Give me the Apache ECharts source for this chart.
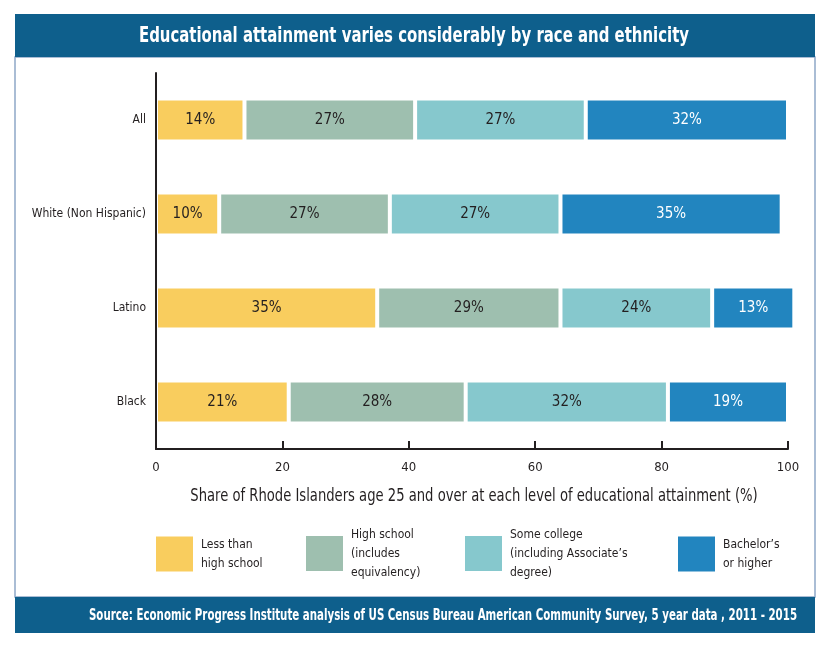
<!DOCTYPE html>
<html>
<head>
<meta charset="utf-8">
<style>
	html, body { margin: 0; padding: 0; background: #fff; }
	#main { width: 830px; height: 649px; }
</style>
<script src="https://cdn.jsdelivr.net/npm/echarts@6/dist/echarts.min.js"></script>
</head>
<body>
<div id="main"></div>
<script>
var groups = ["All", "White (Non Hispanic)", "Latino", "Black"];
var levels = ["Less than\nhigh school", "High school\n(includes\nequivalency)", "Some college\n(including Associate\u2019s\ndegree)", "Bachelor\u2019s\nor higher"];
var lessThanHS = [14, 10, 35, 21];
var highSchool = [27, 27, 29, 28];
var someCollege = [27, 27, 24, 32];
var bachelors = [32, 35, 13, 19];
var xTicks = [0, 20, 40, 60, 80, 100];

var colors = ["#F9CD5E", "#9EBFAF", "#86C8CD", "#2285BF"];
var labelColors = ["#231f20", "#231f20", "#231f20", "#ffffff"];
var font = "'DejaVu Sans Condensed', 'Liberation Sans Narrow', sans-serif";
var barBlue = "#0e5f8c";

var myChart = echarts.init(document.getElementById("main"));

var values = [lessThanHS, highSchool, someCollege, bachelors];
var series = [];
for (var i = 0; i < values.length; i++) {
	series.push({
		name: levels[i],
		type: 'bar',
		stack: 'total',
		data: values[i],
		barWidth: 43,
		clip: false,
		itemStyle: {
			color: colors[i],
			borderColor: '#fff',
			borderWidth: 2
		},
		label: {
			show: true,
			position: 'inside',
			formatter: '{c}%',
			fontFamily: font,
			fontSize: 15,
			color: labelColors[i]
		}
	});
}

// one legend per item so each sits where the original puts it
var legendLeft = [154, 304, 463, 676];
var legendTop = [534.5, 525, 525, 534.5];
var legends = [];
for (var j = 0; j < levels.length; j++) {
	legends.push({
		data: [levels[j]],
		left: legendLeft[j],
		top: legendTop[j],
		padding: 0,
		icon: 'rect',
		itemWidth: 39,
		itemHeight: 37,
		itemGap: 0,
		selectedMode: false,
		textStyle: {
			fontFamily: font,
			fontSize: 12,
			lineHeight: 19,
			color: '#231f20',
			padding: [0, 0, 0, 2]
		}
	});
}

var option = {
	animation: false,
	backgroundColor: '#fff',
	graphic: [{
		type: 'rect',
		z: -1,
		shape: { x: 15, y: 57, width: 800, height: 540 },
		style: { fill: 'none', stroke: '#8ea8c8', lineWidth: 1.5 }
	}, {
		type: 'rect',
		z: -1,
		shape: { x: 15, y: 14, width: 800, height: 43 },
		style: { fill: barBlue }
	}, {
		type: 'rect',
		z: -1,
		shape: { x: 15, y: 597, width: 800, height: 36 },
		style: { fill: barBlue }
	}, {
		type: 'text',
		x: 414,
		y: 37,
		scaleX: 0.79,
		style: {
			text: 'Educational attainment varies considerably by race and ethnicity',
			align: 'center',
			verticalAlign: 'middle',
			font: 'bold 21px ' + font,
			fill: '#fff'
		}
	}, {
		type: 'text',
		x: 443,
		y: 616,
		scaleX: 0.76,
		style: {
			text: 'Source: Economic Progress Institute analysis of US Census Bureau American Community Survey, 5 year data , 2011 - 2015',
			align: 'center',
			verticalAlign: 'middle',
			font: 'bold 15px ' + font,
			fill: '#fff'
		}
	}, {
		type: 'text',
		x: 474,
		y: 497,
		scaleX: 0.86,
		style: {
			text: 'Share of Rhode Islanders age 25 and over at each level of educational attainment (%)',
			align: 'center',
			verticalAlign: 'middle',
			font: '17px ' + font,
			fill: '#231f20'
		}
	}],
	legend: legends,
	grid: {
		left: 156,
		right: 42,
		top: 73,
		bottom: 200
	},
	xAxis: {
		type: 'value',
		min: xTicks[0],
		max: xTicks[xTicks.length - 1],
		interval: 20,
		z: 10,
		axisLine: {
			show: true,
			lineStyle: { color: '#231f20', width: 2 }
		},
		axisTick: {
			show: true,
			inside: true,
			length: 8,
			lineStyle: { color: '#231f20', width: 2 }
		},
		axisLabel: {
			fontFamily: font,
			fontSize: 13,
			color: '#231f20',
			margin: 12
		},
		splitLine: { show: false }
	},
	yAxis: {
		type: 'category',
		data: groups,
		inverse: true,
		z: 10,
		axisLine: {
			show: true,
			lineStyle: { color: '#231f20', width: 2 }
		},
		axisTick: { show: false },
		axisLabel: {
			fontFamily: font,
			fontSize: 12,
			color: '#231f20',
			margin: 10
		}
	},
	series: series
};

myChart.setOption(option);
</script>
</body>
</html>
